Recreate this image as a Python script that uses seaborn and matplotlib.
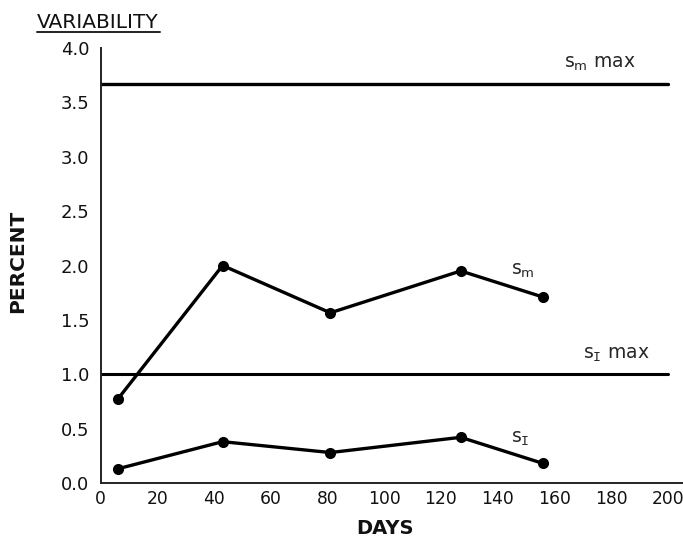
import pandas as pd
import seaborn as sns
import matplotlib.pyplot as plt
from matplotlib.lines import Line2D

# ── data ──
days = [6, 43, 81, 127, 156]
sm_values = [0.77, 2.00, 1.565, 1.95, 1.71]
si_values = [0.13, 0.38, 0.28, 0.42, 0.18]
sm_max = 3.67
si_max = 1.0
x_ticks = [0, 20, 40, 60, 80, 100, 120, 140, 160, 180, 200]
y_ticks = [0.0, 0.5, 1.0, 1.5, 2.0, 2.5, 3.0, 3.5, 4.0]

df = pd.DataFrame({
    "day": days * 2,
    "percent": sm_values + si_values,
    "series": ["sm"] * len(days) + ["si"] * len(days),
})

sns.set_style("white")
plt.rcParams["font.family"] = ["DejaVu Sans"]
plt.rcParams["mathtext.fontset"] = "dejavusans"

W, H = 683, 536
fig = plt.figure(figsize=(W / 100, H / 100), dpi=100)
ax = fig.add_axes([0.1474, 0.0989, 0.8526, 0.8115])

sns.lineplot(
    data=df, x="day", y="percent", hue="series",
    palette={"sm": "black", "si": "black"},
    marker="o", markersize=8, markeredgewidth=0,
    linewidth=2.4, legend=False, ax=ax,
)

# limit lines
ax.plot([0, 200], [sm_max, sm_max], color="black", lw=2.4)
ax.plot([0, 200], [si_max, si_max], color="black", lw=2.2)

ax.set_xlim(0, 205.4)
ax.set_ylim(0, 4.0)
ax.set_xticks(x_ticks)
ax.set_yticks(y_ticks)
ax.set_yticklabels([f"{v:.1f}" for v in y_ticks])
ax.tick_params(axis="both", length=0, labelsize=13, colors="#111111")
ax.tick_params(axis="x", pad=5, labelsize=12.3)
ax.tick_params(axis="y", pad=8)

for side in ["top", "right"]:
    ax.spines[side].set_visible(False)
for side in ["left", "bottom"]:
    ax.spines[side].set_color("#222222")
    ax.spines[side].set_linewidth(1.4)

ax.set_xlabel("")
ax.set_ylabel("")
fig.text(385 / W, 1 - 528 / H, "DAYS", ha="center", va="center",
         fontsize=14, fontweight="bold", color="#111111")
fig.text(18 / W, 1 - 261.5 / H, "PERCENT", ha="center", va="center",
         rotation=90, fontsize=14.5, fontweight="bold", color="#111111")

# series labels (serifed subscript I, as in the reference)
ax.text(176, 3.77, r"s$_\mathrm{m}$ max", ha="center", va="bottom", fontsize=13.5)
ax.text(182, 1.094, r"s$_\mathtt{I}$ max", ha="center", va="bottom", fontsize=13.5)
ax.text(149, 1.866, r"s$_\mathrm{m}$", ha="center", va="bottom", fontsize=13.5)
ax.text(148, 0.32, r"s$_\mathtt{I}$", ha="center", va="bottom", fontsize=13.5)

# underlined heading
fig.text(37 / W, 1 - 28 / H, "VARIABILITY", ha="left", va="baseline",
         fontsize=14.5, color="#111111")
fig.add_artist(Line2D([37 / W, 160 / W], [1 - 32 / H, 1 - 32 / H],
                      color="#222222", lw=1.4, transform=fig.transFigure))

fig.savefig("out.png", dpi=100)
